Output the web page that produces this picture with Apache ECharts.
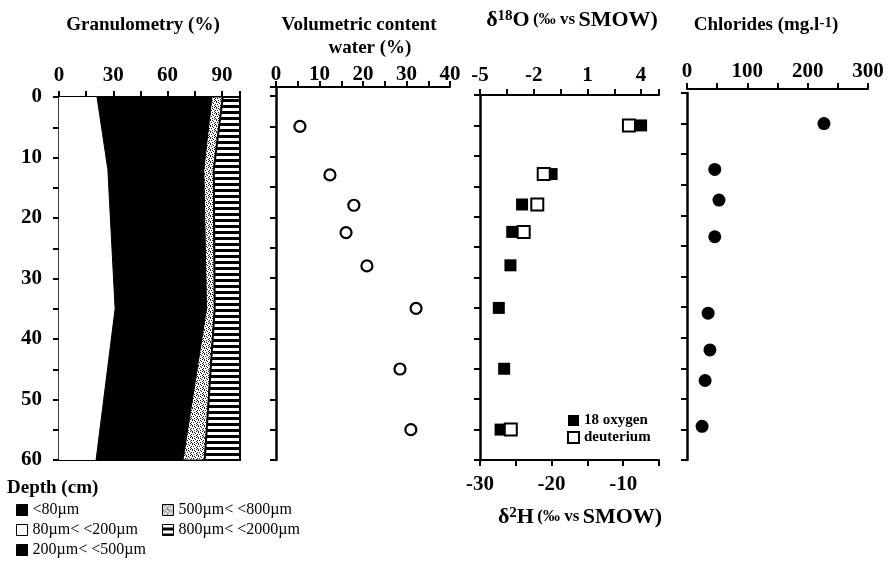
<!DOCTYPE html>
<html>
<head>
<meta charset="utf-8">
<script src="https://cdn.jsdelivr.net/npm/echarts@6/dist/echarts.min.js"></script>
<style>
html, body { margin: 0; padding: 0; background: #fff; }
#main { width: 889px; height: 563px; }
</style>
</head>
<body>
<div id="main"></div>
<script>
// granulometry: cumulative % limits of each fraction at the profile nodes
const granDepth = [0, 12, 35, 60];
const limFine = [21, 27, 31, 20.5];        // 80µm< <200µm
const limMedium = [84.5, 80, 81.5, 68.5];  // 200µm< <500µm
const limCoarse = [90.5, 85.5, 86, 80.5];  // 500µm< <800µm
const limTotal = [100, 100, 100, 100];     // 800µm< <2000µm
const limZero = [0, 0, 0, 0];

// sampled depths (cm)
const sampleDepth = [5, 13, 18, 22.5, 28, 35, 45, 55];
const waterContent = [5.5, 12.4, 17.9, 16.1, 20.9, 32.2, 28.5, 31];
const oxygen18 = [4.0, -1.0, -2.65, -3.2, -3.3, -3.95, -3.65, -3.85];
const deutDepth = [5, 13, 18, 22.5, 55];
const deuterium = [-9.2, -21.1, -22.0, -23.9, -25.7];
const clDepth = [5, 12.5, 17.5, 23.5, 36, 42, 47, 54.5];
const chlorides = [227, 46, 53, 46, 35, 38, 30, 25];

const serif = '"Liberation Serif", "Times New Roman", serif';

// textures for the coarse fractions
function stipple() {
    const c = document.createElement('canvas');
    c.width = 6; c.height = 6;
    const ctx = c.getContext('2d');
    ctx.fillStyle = '#fff';
    ctx.fillRect(0, 0, 6, 6);
    ctx.fillStyle = '#222';
    [[0, 0], [3, 1], [1, 2], [5, 2], [2, 4], [4, 3], [0, 5], [4, 5], [2, 0], [5, 4]].forEach(p => ctx.fillRect(p[0], p[1], 1, 1));
    return { image: c, repeat: 'repeat' };
}
function hatch() {
    const c = document.createElement('canvas');
    c.width = 4; c.height = 6;
    const ctx = c.getContext('2d');
    ctx.fillStyle = '#000';
    ctx.fillRect(0, 0, 4, 6);
    ctx.fillStyle = '#fff';
    ctx.fillRect(0, 0, 4, 3);
    return { image: c, repeat: 'repeat' };
}
const stippleFill = stipple();
const hatchFill = hatch();

function band(name, lower, upper, fill, stroke, lw) {
    return {
        name: name,
        type: 'custom',
        xAxisIndex: 0,
        yAxisIndex: 0,
        itemStyle: { color: fill },
        data: granDepth.map((d, i) => [lower[i], upper[i], d]),
        encode: { x: [0, 1], y: 2 },
        renderItem: function (params, api) {
            if (params.dataIndex !== 0) return;
            const pts = [];
            for (let i = 0; i < granDepth.length; i++) pts.push(api.coord([upper[i], granDepth[i]]));
            for (let i = granDepth.length - 1; i >= 0; i--) pts.push(api.coord([lower[i], granDepth[i]]));
            return {
                type: 'polygon',
                shape: { points: pts },
                style: { fill: fill, stroke: stroke, lineWidth: lw }
            };
        }
    };
}

const lineStyle = { color: '#000', width: 2 };
function axis(extra) {
    return Object.assign({
        type: 'value',
        splitLine: { show: false },
        axisLine: { show: true, onZero: false, lineStyle: lineStyle },
        axisTick: { show: true, length: 6, lineStyle: lineStyle },
        axisLabel: { show: false }
    }, extra);
}
function labels(margin, fmt) {
    return {
        show: true, margin: margin, formatter: fmt,
        color: '#000', fontFamily: serif, fontWeight: 'bold', fontSize: 21
    };
}
const leftLine = { show: true, onZero: false, lineStyle: { color: '#000', width: 2.5 } };

const chart = echarts.init(document.getElementById('main'));
chart.setOption({
    animation: false,
    backgroundColor: '#fff',
    grid: [
        { left: 59, top: 97, width: 181, height: 363 },
        { left: 276, top: 87, width: 174, height: 373 },
        { left: 480, top: 95, width: 179, height: 365 },
        { left: 687, top: 93, width: 181, height: 367 }
    ],
    xAxis: [
        axis({ gridIndex: 0, position: 'top', min: 0, max: 100, interval: 15,
            axisLabel: labels(11, v => (v % 30 === 0 && v < 100) ? v : '') }),
        axis({ gridIndex: 0, position: 'bottom', min: 0, max: 100, axisTick: { show: false } }),
        axis({ gridIndex: 1, position: 'top', min: 0, max: 40, interval: 5,
            axisLabel: labels(2, v => v % 10 === 0 ? v : '') }),
        axis({ gridIndex: 2, position: 'top', min: -5, max: 5, interval: 1.5,
            axisLabel: labels(9, v => {
                const k = (v + 5) / 3;
                return (Math.abs(k - Math.round(k)) < 1e-6 && v < 5) ? v : '';
            }) }),
        axis({ gridIndex: 2, position: 'bottom', min: -30, max: -5, interval: 5,
            axisLabel: labels(14, v => v % 10 === 0 ? v : '') }),
        axis({ gridIndex: 3, position: 'top', offset: 4, min: 0, max: 300, interval: 50,
            axisLabel: labels(7, v => v % 100 === 0 ? v : '') })
    ],
    yAxis: [
        axis({ gridIndex: 0, inverse: true, min: 0, max: 60, interval: 5, axisLine: leftLine,
            axisLabel: labels(17, v => v % 10 === 0 ? v : '') }),
        axis({ gridIndex: 1, inverse: true, min: -1.5, max: 60, splitNumber: 12, axisLine: leftLine }),
        axis({ gridIndex: 2, inverse: true, min: 0, max: 60, interval: 5, axisLine: leftLine }),
        axis({ gridIndex: 3, inverse: true, min: 0, max: 60, interval: 5, axisLine: leftLine })
    ],
    legend: [
        {
            data: ['<80µm', '80µm< <200µm', '200µm< <500µm'],
            icon: 'rect',
            orient: 'vertical', left: 16, top: 500, padding: 0, itemGap: 0,
            itemWidth: 11, itemHeight: 11, selectedMode: false,
            itemStyle: { borderColor: '#000', borderWidth: 1 },
            textStyle: { color: '#000', fontFamily: serif, fontSize: 16, lineHeight: 20 }
        },
        {
            data: ['500µm< <800µm', '800µm< <2000µm'],
            icon: 'rect',
            orient: 'vertical', left: 162, top: 500, padding: 0, itemGap: 0,
            itemWidth: 11, itemHeight: 11, selectedMode: false,
            itemStyle: { borderColor: '#000', borderWidth: 1 },
            textStyle: { color: '#000', fontFamily: serif, fontSize: 16, lineHeight: 20 }
        },
        {
            data: ['18 oxygen', 'deuterium'],
            icon: 'rect',
            orient: 'vertical', left: 567, top: 412, padding: 0, itemGap: 0,
            itemWidth: 11, itemHeight: 11, selectedMode: false,
            textStyle: { color: '#000', fontFamily: serif, fontWeight: 'bold', fontSize: 15, lineHeight: 17 }
        }
    ],
    graphic: [
        { type: 'text', x: 143, y: 25, style: { text: 'Granulometry (%)', font: 'bold 19px ' + serif, fill: '#000', align: 'center', verticalAlign: 'middle' } },
        { type: 'text', x: 359, y: 25, style: { text: 'Volumetric content', font: 'bold 19px ' + serif, fill: '#000', align: 'center', verticalAlign: 'middle' } },
        { type: 'text', x: 370, y: 48, style: { text: 'water (%)', font: 'bold 19px ' + serif, fill: '#000', align: 'center', verticalAlign: 'middle' } },
        { type: 'text', x: 572, y: 20, style: {
            text: '{b|δ}{s|18}{b|O} {m|(‰ vs} {b|SMOW)}', fill: '#000', align: 'center', verticalAlign: 'middle',
            rich: {
                b: { fontFamily: serif, fontSize: 22, fontWeight: 'bold' },
                m: { fontFamily: serif, fontSize: 17, fontWeight: 'bold' },
                s: { fontFamily: serif, fontSize: 15, fontWeight: 'bold', verticalAlign: 'top' }
            } } },
        { type: 'text', x: 766, y: 25, style: {
            text: '{b|Chlorides (mg.l}{s|-1}{b|)}', fill: '#000', align: 'center', verticalAlign: 'middle',
            rich: {
                b: { fontFamily: serif, fontSize: 19, fontWeight: 'bold' },
                s: { fontFamily: serif, fontSize: 15, fontWeight: 'bold', verticalAlign: 'top' }
            } } },
        { type: 'text', x: 580, y: 517, style: {
            text: '{b|δ}{s|2}{b|H} {m|(‰ vs} {b|SMOW)}', fill: '#000', align: 'center', verticalAlign: 'middle',
            rich: {
                b: { fontFamily: serif, fontSize: 22, fontWeight: 'bold' },
                m: { fontFamily: serif, fontSize: 17, fontWeight: 'bold' },
                s: { fontFamily: serif, fontSize: 15, fontWeight: 'bold', verticalAlign: 'top' }
            } } },
        { type: 'text', x: 7, y: 488, style: { text: 'Depth (cm)', font: 'bold 19px ' + serif, fill: '#000', align: 'left', verticalAlign: 'middle' } }
    ],
    series: [
        { name: '<80µm', type: 'custom', xAxisIndex: 0, yAxisIndex: 0, itemStyle: { color: '#000' }, data: [], renderItem: () => null },
        band('80µm< <200µm', limZero, limFine, '#fff', null, 0),
        band('200µm< <500µm', limFine, limMedium, '#000', '#000', 1),
        band('500µm< <800µm', limMedium, limCoarse, stippleFill, '#000', 1),
        band('800µm< <2000µm', limCoarse, limTotal, hatchFill, '#000', 2),
        {
            name: 'water', type: 'scatter', xAxisIndex: 2, yAxisIndex: 1,
            symbol: 'circle', symbolSize: 11,
            itemStyle: { color: '#fff', borderColor: '#000', borderWidth: 2.2, opacity: 1 },
            data: sampleDepth.map((d, i) => [waterContent[i], d])
        },
        {
            name: '18 oxygen', type: 'scatter', xAxisIndex: 3, yAxisIndex: 2,
            symbol: 'rect', symbolSize: 12, z: 3,
            itemStyle: { color: '#000', opacity: 1 },
            data: sampleDepth.map((d, i) => [oxygen18[i], d])
        },
        {
            name: 'deuterium', type: 'scatter', xAxisIndex: 4, yAxisIndex: 2,
            symbol: 'rect', symbolSize: 12, z: 4,
            itemStyle: { color: '#fff', borderColor: '#000', borderWidth: 2, opacity: 1 },
            data: deutDepth.map((d, i) => [deuterium[i], d])
        },
        {
            name: 'chlorides', type: 'scatter', xAxisIndex: 5, yAxisIndex: 3,
            symbol: 'circle', symbolSize: 13,
            itemStyle: { color: '#000', opacity: 1 },
            data: clDepth.map((d, i) => [chlorides[i], d])
        }
    ]
});
</script>
</body>
</html>
